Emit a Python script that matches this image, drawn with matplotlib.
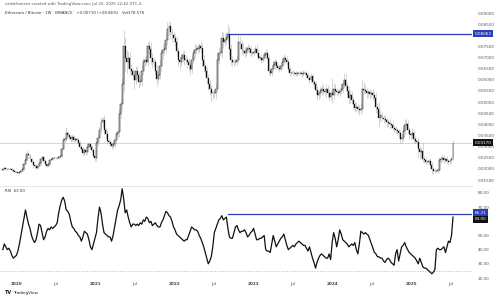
import matplotlib
matplotlib.use("Agg")
import matplotlib.pyplot as plt
import matplotlib.dates as mdates
import matplotlib.transforms as mtransforms
import numpy as np
import pandas as pd


# ETH/BTC weekly closes, week of 2019-10-28 .. week of 2025-07-14
closes_2019 = [0.0200, 0.0203, 0.0201, 0.0198, 0.0200, 0.0200, 0.0195, 0.0190, 0.0186, 0.0184]
closes_2020 = [0.0180, 0.0185, 0.0192, 0.0198,
               0.0220, 0.0240, 0.0268, 0.0262,
               0.0245, 0.0232, 0.0218, 0.0212, 0.0205,
               0.0215, 0.0225, 0.0245, 0.0252,
               0.0235, 0.0220, 0.0215, 0.0222,
               0.0240, 0.0245, 0.0250, 0.0250, 0.0248,
               0.0250, 0.0252, 0.0258, 0.0290,
               0.0330, 0.0335, 0.0360, 0.0350, 0.0345,
               0.0335, 0.0345, 0.0330, 0.0335,
               0.0330, 0.0318, 0.0300, 0.0290,
               0.0270, 0.0285, 0.0275, 0.0300, 0.0310,
               0.0300, 0.0285, 0.0260, 0.0250]
closes_2021 = [0.0315, 0.0340, 0.0375, 0.0410,
               0.0420, 0.0375, 0.0355, 0.0325,
               0.0320, 0.0310, 0.0305, 0.0310, 0.0330,
               0.0355, 0.0365, 0.0445, 0.0490,
               0.0580, 0.0750, 0.0700, 0.0680, 0.0700,
               0.0650, 0.0640, 0.0620, 0.0600,
               0.0640, 0.0620, 0.0590, 0.0595,
               0.0640, 0.0680, 0.0690, 0.0680, 0.0750,
               0.0740, 0.0700, 0.0680, 0.0680,
               0.0640, 0.0605, 0.0620, 0.0660,
               0.0720, 0.0735, 0.0740, 0.0780, 0.0830,
               0.0840, 0.0815, 0.0800, 0.0790]
closes_2022 = [0.0770, 0.0730, 0.0690, 0.0680, 0.0700,
               0.0710, 0.0690, 0.0690, 0.0680,
               0.0665, 0.0650, 0.0690, 0.0720,
               0.0735, 0.0740, 0.0740, 0.0750,
               0.0745, 0.0690, 0.0660, 0.0640, 0.0610,
               0.0580, 0.0560, 0.0540, 0.0540,
               0.0540, 0.0560, 0.0690, 0.0720,
               0.0720, 0.0790, 0.0770, 0.0780, 0.0790,
               0.0806, 0.0740, 0.0690, 0.0680,
               0.0680, 0.0680, 0.0690, 0.0770, 0.0760,
               0.0740, 0.0730, 0.0720, 0.0735,
               0.0745, 0.0740, 0.0720, 0.0720]
closes_2023 = [0.0725, 0.0740, 0.0720, 0.0700, 0.0700,
               0.0690, 0.0700, 0.0710, 0.0720,
               0.0700, 0.0640, 0.0630, 0.0650,
               0.0665, 0.0680, 0.0660, 0.0655,
               0.0650, 0.0660, 0.0680, 0.0700, 0.0690,
               0.0680, 0.0650, 0.0630, 0.0630,
               0.0630, 0.0630, 0.0625, 0.0630, 0.0630,
               0.0630, 0.0625, 0.0630, 0.0630,
               0.0620, 0.0610, 0.0600, 0.0615,
               0.0590, 0.0580, 0.0555, 0.0530, 0.0540,
               0.0550, 0.0560, 0.0550, 0.0545,
               0.0560, 0.0540, 0.0525, 0.0540]
closes_2024 = [0.0530, 0.0560, 0.0550, 0.0545, 0.0540,
               0.0550, 0.0560, 0.0580, 0.0600,
               0.0570, 0.0550, 0.0520, 0.0530,
               0.0510, 0.0490, 0.0475, 0.0480, 0.0470,
               0.0465, 0.0470, 0.0560, 0.0555,
               0.0550, 0.0540, 0.0545, 0.0535,
               0.0540, 0.0530, 0.0520, 0.0480, 0.0470,
               0.0430, 0.0440, 0.0430, 0.0425,
               0.0420, 0.0410, 0.0405, 0.0400, 0.0395,
               0.0385, 0.0380, 0.0375, 0.0370,
               0.0360, 0.0335, 0.0340, 0.0370,
               0.0395, 0.0400, 0.0375, 0.0355, 0.0350]
closes_2025 = [0.0360, 0.0335, 0.0325, 0.0320,
               0.0290, 0.0275, 0.0280, 0.0245,
               0.0240, 0.0232, 0.0230, 0.0235, 0.0218,
               0.0198, 0.0192, 0.0190, 0.0190,
               0.0195, 0.0240, 0.0245, 0.0250,
               0.0240, 0.0245, 0.0235, 0.0230, 0.0238,
               0.0246, 0.0317]
first_open = 0.0196

# upper / lower wicks beyond the body, in units of 0.0001
wick_up = [6, 4, 3, 4, 3, 4, 3, 3, 3, 3,
           3, 4, 4, 5, 6, 8, 17, 8, 6, 5, 8, 6, 5, 4, 5, 6, 7, 6, 5, 4, 5, 6, 4, 5, 4, 3,
           3, 4, 5, 8, 12, 10, 30, 8, 7, 8, 10, 9, 6, 6, 8, 7, 6, 8, 10, 9, 12, 10, 8, 7, 8, 6,
           12, 15, 14, 25, 15, 20, 12, 18, 10, 9, 10, 12, 10, 12, 15, 25, 20, 30, 74, 40, 35, 28,
           25, 20, 15, 18, 20, 22, 15, 18, 25, 20, 18, 15, 20, 25, 30, 20, 18, 15, 25, 20, 30,
           20, 25, 30, 28, 31, 25, 20, 18, 15,
           20, 25, 18, 15, 20, 20, 25, 15, 12, 18, 15, 20, 20, 25, 20, 18, 15, 18, 20, 20, 15, 18,
           15, 20, 18, 15, 15, 20, 30, 25, 20, 30, 25, 20, 25, 44, 30, 20, 18, 15, 15, 20, 30, 25,
           20, 25, 18, 15, 15, 18, 12, 10,
           10, 15, 20, 15, 12, 12, 15, 15, 18, 15, 12, 15, 18, 18, 15, 12, 15, 12, 15, 15, 18, 12,
           15, 12, 10, 15, 12, 10, 8, 10, 8, 8, 10, 12, 8, 8, 10, 12, 15, 12, 10, 15, 18, 15,
           20, 25, 15, 12, 20, 15, 15, 12,
           70, 25, 20, 15, 15, 15, 20, 25, 30, 25, 20, 20, 25, 20, 15, 15, 20, 15, 15, 25, 40, 30,
           20, 15, 15, 12, 15, 20, 20, 25, 15, 30, 25, 15, 12, 15, 12, 15, 18, 12, 15, 12, 12, 10,
           10, 15, 15, 25, 30, 25, 20, 15, 12,
           25, 15, 12, 10, 20, 15, 20, 35, 15, 12, 10, 10, 12, 15, 10, 8, 8, 10, 15, 12, 15,
           12, 10, 12, 10, 8, 10, 12]
wick_dn = [4, 3, 4, 3, 3, 4, 3, 4, 3, 3,
           3, 3, 3, 3, 4, 4, 5, 12, 8, 7, 14, 8, 7, 5, 4, 6, 8, 7, 8, 5, 4, 4, 6, 5, 4, 5,
           4, 4, 4, 5, 6, 9, 8, 10, 9, 12, 8, 9, 7, 8, 9, 10, 9, 10, 9, 12, 8, 9, 10, 9, 8, 15,
           15, 12, 18, 15, 20, 18, 15, 12, 12, 10, 15, 10, 12, 12, 10, 20, 15, 25, 35, 60, 50, 25,
           30, 25, 20, 40, 20, 18, 25, 20, 22, 20, 18, 15, 20, 25, 30, 25, 22, 20, 35, 20, 18,
           20, 25, 22, 20, 25, 30, 25, 30, 20,
           20, 25, 30, 25, 20, 18, 22, 20, 25, 25, 30, 20, 15, 20, 18, 15, 20, 20, 30, 25, 20, 30,
           25, 30, 40, 25, 20, 25, 15, 20, 15, 20, 25, 20, 18, 20, 30, 25, 20, 18, 15, 15, 10, 20,
           25, 20, 18, 15, 12, 15, 18, 10,
           12, 10, 15, 12, 10, 15, 12, 10, 15, 12, 20, 15, 12, 10, 12, 15, 12, 15, 12, 10, 12, 15,
           12, 15, 12, 10, 10, 8, 10, 8, 10, 8, 12, 10, 8, 10, 12, 15, 10, 12, 15, 18, 20, 15,
           15, 20, 18, 12, 25, 20, 20, 15,
           35, 20, 20, 15, 12, 12, 15, 20, 15, 20, 25, 30, 25, 20, 25, 20, 15, 20, 25, 20, 15, 20,
           15, 20, 15, 20, 15, 20, 15, 30, 20, 40, 20, 15, 20, 15, 20, 18, 15, 12, 12, 15, 12, 15,
           20, 25, 20, 15, 15, 20, 15, 20, 15,
           15, 20, 12, 15, 40, 30, 20, 15, 15, 12, 10, 12, 15, 20, 13, 10, 8, 8, 10, 15, 12,
           15, 12, 15, 12, 8, 10, 4]

# RSI(14) weekly (same weeks as the candles)
rsi_values = [40, 44, 42, 40, 41, 39, 36, 34, 35, 36,
              39, 44, 50, 56, 62, 68, 63, 58, 55, 50,
              47, 45, 47, 52, 58, 57, 52, 47, 49, 53,
              55, 54, 56, 55, 56, 57, 59, 66, 71, 75,
              77, 74, 68, 67, 65, 60, 56, 55, 53, 52,
              50, 49, 46, 49, 53, 52, 51, 47, 42, 40,
              44, 48, 52, 62, 70, 66, 58, 52, 51, 50,
              49, 49, 46, 50, 56, 62, 68, 71, 75, 83,
              76, 66, 68, 63, 59, 56, 58, 58, 57, 58,
              57, 59, 58, 61, 60, 63, 62, 59, 60, 57,
              58, 59, 57, 56, 56, 59, 61, 64, 67, 66,
              64, 63, 60, 56, 54, 51, 50, 49, 48, 47,
              46, 47, 47, 50, 53, 56, 55, 54, 54, 53,
              50, 48, 45, 42, 38, 34, 30, 32, 35, 42,
              52, 55, 58, 61, 62, 64, 61, 62, 63, 55,
              49, 48, 48, 52, 56, 57, 54, 52, 53, 53,
              54, 52, 49, 50, 52, 53, 55, 51, 47, 47,
              48, 48, 49, 50, 40, 39, 39, 38, 44, 50,
              46, 42, 44, 46, 48, 49, 51, 47, 43, 40,
              41, 42, 43, 42, 44, 45, 46, 45, 44, 43,
              43, 41, 39, 42, 38, 34, 31, 27, 31, 34,
              36, 37, 36, 35, 34, 34, 37, 33, 45, 52,
              48, 42, 47, 54, 51, 47, 46, 45, 44, 42,
              43, 44, 43, 45, 40, 37, 44, 53, 52, 51,
              52, 51, 50, 47, 44, 41, 38, 37, 35, 35,
              34, 34, 32, 31, 33, 34, 33, 31, 30, 29,
              37, 40, 32, 37, 42, 43, 45, 42, 40, 38,
              37, 36, 35, 34, 32, 30, 34, 31, 28, 27,
              27, 26, 25, 24, 23, 24, 26, 40, 41, 40,
              40, 41, 42, 38, 42, 46, 45, 50, 63.00]

price_ticks = [0.015, 0.020, 0.025, 0.030, 0.035, 0.040, 0.045, 0.050,
               0.055, 0.060, 0.065, 0.070, 0.075, 0.085, 0.090]
rsi_ticks = [20, 30, 40, 50, 70, 80]

hline_price = 0.08063
hline_start = "2022-09-05"
hline_rsi = 65.21
rsi_band = 25

header1 = "calebfranzen created with TradingView.com, Jul 20, 2025 12:42 UTC-4"
header2 = "Ethereum / Bitcoin \u00b7 1W \u00b7 BINANCE   +0.00710 (+28.86%)   Vol378.57K"

BLUE = "#2b3fb8"

closes = np.array(closes_2019 + closes_2020 + closes_2021 + closes_2022
                  + closes_2023 + closes_2024 + closes_2025)
opens = np.concatenate([[first_open], closes[:-1]])
highs = np.maximum(opens, closes) + np.array(wick_up) * 1e-4
lows = np.minimum(opens, closes) - np.array(wick_dn) * 1e-4
rsi = np.array(rsi_values, dtype=float)
weeks = pd.date_range("2019-10-28", periods=len(closes), freq="7D")
xw = mdates.date2num(weeks.to_pydatetime())

fig = plt.figure(figsize=(5, 2.98), dpi=100)
W, H = 500, 298
ax = fig.add_axes([0, 1 - 186 / H, 472 / W, 186 / H])
ax2 = fig.add_axes([0, 1 - 279 / H, 472 / W, 92 / H], sharex=ax)

# candles
up = closes >= opens
ax.vlines(xw, lows, highs, color="#b4b4b4", lw=0.4, zorder=2)
body_lo = np.minimum(opens, closes)
body_h = np.maximum(np.abs(closes - opens), 0.00008)
ax.bar(xw[~up], body_h[~up], bottom=body_lo[~up], width=4.5,
       color="#111111", edgecolor="#111111", lw=0.2, zorder=3)
ax.bar(xw[up], body_h[up], bottom=body_lo[up], width=4.5,
       color="#ffffff", edgecolor="#111111", lw=0.35, zorder=3)

x_left = mdates.date2num(pd.Timestamp("2019-10-15"))
x_right = mdates.date2num(pd.Timestamp("2025-10-10"))
ax.set_xlim(x_left, x_right)
ax.set_ylim(0.01232, 0.09584)

# last price line and horizontal level
ax.axhline(closes[-1], color="#cfcfcf", lw=0.6, zorder=1)
hx = mdates.date2num(pd.Timestamp(hline_start))
ax.plot([hx, x_right], [hline_price, hline_price], color=BLUE, lw=0.9, zorder=4)

ax.yaxis.tick_right()
ax.set_yticks(price_ticks)
ax.set_yticklabels([f"{t:.5f}" for t in price_ticks])
ax.tick_params(axis="y", length=0, pad=4, labelsize=3, labelcolor="#555555")
ax.tick_params(axis="x", length=0, labelbottom=False)
for s in ["top", "left", "right"]:
    ax.spines[s].set_visible(False)
ax.spines["bottom"].set_color("#e3e3e3")
ax.spines["bottom"].set_linewidth(0.6)

tr = mtransforms.blended_transform_factory(ax.transAxes, ax.transData)
ax.text(1.006, hline_price, f"{hline_price:.5f}", transform=tr, fontsize=3, color="white",
        va="center", ha="left", clip_on=False, zorder=10,
        bbox=dict(boxstyle="square,pad=0.35", fc=BLUE, ec="none"))
ax.text(1.006, closes[-1], f"{closes[-1]:.5f}", transform=tr, fontsize=3, color="white",
        va="center", ha="left", clip_on=False, zorder=10,
        bbox=dict(boxstyle="square,pad=0.35", fc="#111111", ec="none"))

# RSI pane
ax2.plot(xw, rsi, color="#111111", lw=0.9, zorder=3)
ax2.axhline(rsi_band, color="#b5b5b5", lw=0.5, ls=(0, (2, 2)), zorder=1)
ax2.plot([hx, x_right], [hline_rsi, hline_rsi], color=BLUE, lw=0.9, zorder=4)
ax2.set_ylim(19.3, 84.2)
ax2.yaxis.tick_right()
ax2.set_yticks(rsi_ticks)
ax2.set_yticklabels([f"{t:.2f}" for t in rsi_ticks])
ax2.tick_params(axis="y", length=0, pad=4, labelsize=3, labelcolor="#555555")
for s in ["top", "left", "right", "bottom"]:
    ax2.spines[s].set_visible(False)

tr2 = mtransforms.blended_transform_factory(ax2.transAxes, ax2.transData)
ax2.text(1.006, hline_rsi + 0.8, f"{hline_rsi:.2f}", transform=tr2, fontsize=3, color="white",
         va="center", ha="left", clip_on=False, zorder=10,
         bbox=dict(boxstyle="square,pad=0.35", fc=BLUE, ec="none"))
ax2.text(1.006, rsi[-1] - 1.6, f"{rsi[-1]:.2f}", transform=tr2, fontsize=3, color="white",
         va="center", ha="left", clip_on=False, zorder=10,
         bbox=dict(boxstyle="square,pad=0.35", fc="#111111", ec="none"))

# time axis
tick_dates, tick_labels = [], []
for yr in range(2020, 2026):
    tick_dates += [pd.Timestamp(f"{yr}-01-01"), pd.Timestamp(f"{yr}-07-01")]
    tick_labels += [str(yr), "Jul"]
ax2.set_xticks(mdates.date2num(tick_dates))
ax2.set_xticklabels(tick_labels)
ax2.tick_params(axis="x", length=0, pad=2.5, labelsize=3, labelcolor="#444444")
for lbl in ax2.get_xticklabels():
    if lbl.get_text() != "Jul":
        lbl.set_fontweight("bold")

# header / legends
fig.text(5 / W, 1 - 4 / H, header1, fontsize=2.8, color="#555555", va="center")
fig.text(5 / W, 1 - 13 / H, header2, fontsize=2.8, color="#333333", va="center")
fig.text(5 / W, 1 - 191 / H, f"RSI  {rsi[-1]:.2f}", fontsize=2.8, color="#333333", va="center")
fig.text(5 / W, 1 - 293 / H, "TV", fontsize=3.5, color="#131722", fontweight="bold", va="center")
fig.text(13 / W, 1 - 293 / H, "TradingView", fontsize=3, color="#131722", va="center")

fig.savefig("out.png", dpi=100, facecolor="white")
